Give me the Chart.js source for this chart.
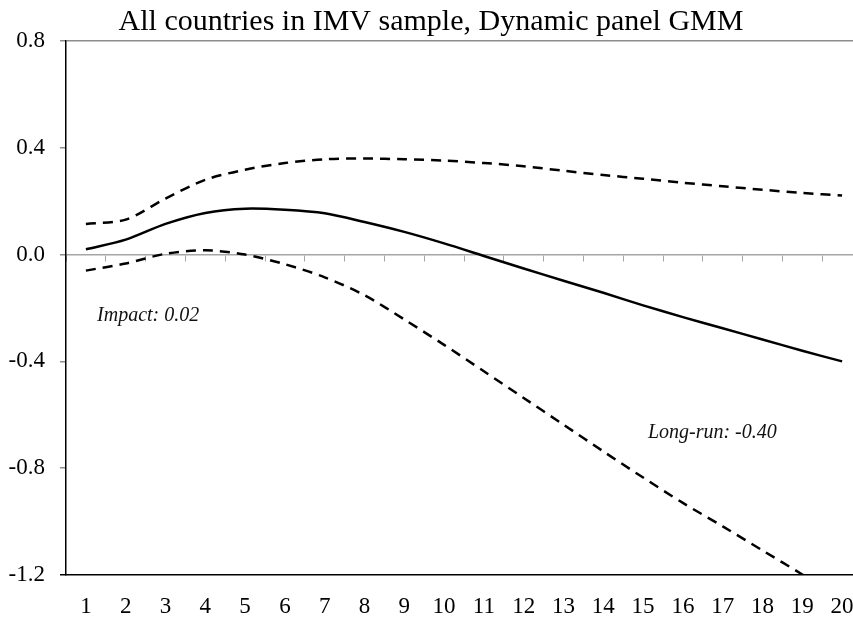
<!DOCTYPE html>
<html>
<head>
<meta charset="utf-8">
<script src="https://cdn.jsdelivr.net/npm/chart.js@4/dist/chart.umd.min.js"></script>
<style>
  html, body { margin: 0; padding: 0; background: #fff; overflow: hidden; }
  #wrap { position: absolute; left: 0; top: 0; width: 864px; height: 619px; }
</style>
</head>
<body>
<div id="wrap"><canvas id="irf"></canvas></div>
<script>
// horizon (years after the shock)
var horizons = ["1","2","3","4","5","6","7","8","9","10","11","12","13","14","15","16","17","18","19","20"];

// point estimate and confidence band
var irf   = [0.02, 0.056, 0.115, 0.156, 0.172, 0.168, 0.155, 0.122, 0.085, 0.042, -0.005, -0.052, -0.098, -0.143, -0.19, -0.234, -0.276, -0.318, -0.36, -0.40];
var upper = [0.115, 0.131, 0.21, 0.28, 0.318, 0.343, 0.357, 0.36, 0.357, 0.352, 0.343, 0.331, 0.314, 0.298, 0.284, 0.269, 0.256, 0.243, 0.231, 0.221];
var lower = [-0.06, -0.033, 0.003, 0.016, 0.0, -0.036, -0.085, -0.152, -0.243, -0.338, -0.437, -0.537, -0.637, -0.737, -0.835, -0.93, -1.018, -1.108, -1.198, -1.29];

var yMin = -1.2, yMax = 0.8, yStep = 0.4;

var impactText = "Impact: 0.02";
var longRunText = "Long-run: -0.40";

Chart.defaults.font.family = "'Liberation Serif', 'DejaVu Serif', serif";
Chart.defaults.color = '#000';

function isVal(v, target) {
  return Math.abs(v - target) < 1e-6;
}

// text notes inside the plot
var notesPlugin = {
  id: 'notes',
  afterDatasetsDraw: function(chart) {
    var ctx = chart.ctx;
    var x = chart.scales.x, y = chart.scales.y;
    ctx.save();
    ctx.font = "italic 20px 'Liberation Serif', serif";
    ctx.fillStyle = '#111';
    ctx.textBaseline = 'middle';
    ctx.textAlign = 'left';
    ctx.fillText(impactText, x.getPixelForValue(0.28), y.getPixelForValue(-0.23));
    ctx.fillText(longRunText, x.getPixelForValue(14.12), y.getPixelForValue(-0.667));
    ctx.restore();
  }
};

function lineSet(data, dashed) {
  return {
    data: data,
    borderColor: '#000',
    borderWidth: 2.5,
    borderDash: dashed ? [10, 7] : [],
    pointRadius: 0,
    tension: 0.3,
    fill: false,
    clip: 0
  };
}

new Chart(document.getElementById('irf'), {
  type: 'line',
  data: {
    labels: horizons,
    datasets: [
      lineSet(upper, true),
      lineSet(irf, false),
      lineSet(lower, true)
    ]
  },
  options: {
    responsive: true,
    maintainAspectRatio: false,
    animation: false,
    layout: { padding: { left: 0, right: 2, top: 0, bottom: 0 } },
    plugins: {
      legend: { display: false },
      tooltip: { enabled: false },
      title: {
        display: true,
        text: 'All countries in IMV sample, Dynamic panel GMM',
        font: { size: 30, weight: 'normal', lineHeight: 1.1 },
        color: '#000',
        padding: { top: 6, bottom: 2 }
      }
    },
    scales: {
      x: {
        type: 'category',
        offset: true,
        grid: { display: false },
        border: { display: true, color: '#000', width: 1.5 },
        ticks: { font: { size: 23 }, padding: 10, maxRotation: 0, autoSkip: false },
        afterFit: function(s) { s.height = 44; }
      },
      x0: {
        type: 'category',
        position: { y: 0 },
        offset: true,
        grid: { offset: true, drawOnChartArea: false, drawTicks: true, tickLength: 6, color: '#a6a6a6', lineWidth: 1 },
        border: { display: true, color: '#a6a6a6', width: 1.5 },
        ticks: { display: false }
      },
      y: {
        min: yMin,
        max: yMax,
        ticks: {
          stepSize: yStep,
          font: { size: 23 },
          padding: 15,
          callback: function(v) { return Math.abs(v) < 1e-9 ? '0.0' : Number(v).toFixed(1); }
        },
        grid: {
          drawTicks: true,
          tickLength: 6,
          lineWidth: 1.5,
          color: function(c) { return c.tick && isVal(c.tick.value, yMax) ? '#8c8c8c' : 'rgba(0,0,0,0)'; },
          tickColor: function(c) { return c.tick && isVal(c.tick.value, yMin) ? '#000' : '#8c8c8c'; }
        },
        border: { display: true, color: '#000', width: 1.5 },
        afterFit: function(s) { s.width = 66; }
      }
    }
  },
  plugins: [notesPlugin]
});
</script>
</body>
</html>
